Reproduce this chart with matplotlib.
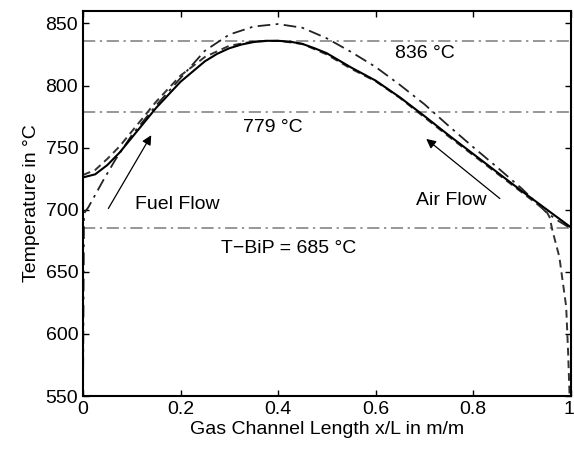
import numpy as np
import matplotlib.pyplot as plt
from matplotlib.transforms import ScaledTranslation

plt.rcParams['font.family'] = ['Liberation Sans', 'DejaVu Sans']

# gas channel position x/L
x_solid = [0.0, 0.025, 0.05, 0.075, 0.1, 0.15, 0.2, 0.25, 0.275, 0.3, 0.325,
           0.35, 0.375, 0.4, 0.425, 0.45, 0.475, 0.5, 0.55, 0.6, 0.65, 0.7,
           0.75, 0.8, 0.85, 0.9, 0.95, 1.0]
T_solid = [726, 728.5, 736, 746, 758, 782, 803, 819.5, 825.5, 830, 833,
           835, 836, 836, 835.3, 833.5, 830, 826, 814.5, 804, 790.5, 775.5,
           760, 745, 730, 715, 700.5, 686]

x_dashed = [0.0, 0.025, 0.05, 0.075, 0.1, 0.15, 0.2, 0.25, 0.3, 0.35, 0.4,
            0.45, 0.5, 0.55, 0.6, 0.65, 0.7, 0.75, 0.8, 0.85, 0.9, 0.95,
            0.957, 0.963, 0.977, 0.991, 0.995, 0.998]
T_dashed = [728, 732, 741, 751, 763, 787, 808, 823, 832, 835.5, 836,
            833.5, 825, 813.5, 803.5, 790, 774.5, 759, 744, 729, 714, 699,
            694, 683, 662, 622, 585, 550]

x_dashdot = [0.0, 0.002, 0.011, 0.042, 0.066, 0.1, 0.15, 0.2, 0.25, 0.3, 0.35,
             0.4, 0.45, 0.5, 0.55, 0.6, 0.65, 0.7, 0.75, 0.8, 0.85, 0.9,
             0.95, 0.975, 1.0]
T_dashdot = [550, 697, 702, 724, 740, 760, 784, 806, 828, 841, 847.5,
             849.5, 846.5, 838, 827, 815, 800.5, 785, 767.5, 750.5, 734, 717,
             698, 691, 685]

# reference temperatures
T_levels = [836, 779, 685]
level_labels = ['836 °C', '779 °C', 'T\u2212BiP = 685 °C']

xticks = [0, 0.2, 0.4, 0.6, 0.8, 1]
xtick_labels = ['0', '0.2', '0.4', '0.6', '0.8', '1']
yticks = [550, 600, 650, 700, 750, 800, 850]

fig = plt.figure(figsize=(5.74, 4.49), dpi=100)
ax = fig.add_axes([0.1446, 0.118, 0.8494, 0.8575])

for T in T_levels:
    ax.axhline(T, color='#7a7a7a', lw=1.1, ls=(0, (8, 3, 1.5, 3)), zorder=1)

ax.plot(x_dashdot, T_dashdot, color='#222222', lw=1.3, ls=(0, (7, 3, 1.5, 3)))
ax.plot(x_dashed, T_dashed, color='#333333', lw=1.4, ls=(0, (4, 2.5)))
ax.plot(x_solid, T_solid, color='black', lw=1.5)

fs = 14
ax.text(0.639, 825.5, level_labels[0], fontsize=fs, ha='left', va='center')
ax.text(0.328, 766.5, level_labels[1], fontsize=fs, ha='left', va='center')
ax.text(0.284, 669, level_labels[2], fontsize=fs, ha='left', va='center')
ax.text(0.107, 704.5, 'Fuel Flow', fontsize=fs, ha='left', va='center')
ax.text(0.684, 707.5, 'Air Flow', fontsize=fs, ha='left', va='center')

arrow = dict(arrowstyle='-|>', color='black', lw=0.9, mutation_scale=14,
             shrinkA=0, shrinkB=0)
ax.annotate('', xy=(0.14, 760), xytext=(0.052, 701), arrowprops=arrow)
ax.annotate('', xy=(0.704, 757), xytext=(0.855, 709), arrowprops=arrow)

ax.set_xlim(0, 1)
ax.set_ylim(550, 860)
ax.set_xticks(xticks)
ax.set_xticklabels(xtick_labels)
ax.set_yticks(yticks)
ax.tick_params(direction='in', top=True, right=True, labelsize=fs,
               length=4, width=1)
for s in ax.spines.values():
    s.set_linewidth(1.5)

# keep the last x label inside the figure
last = ax.get_xticklabels()[-1]
last.set_transform(last.get_transform() + ScaledTranslation(-2 / 100, 0, fig.dpi_scale_trans))

ax.set_xlabel('Gas Channel Length x/L in m/m', fontsize=fs, labelpad=2)
ax.set_ylabel('Temperature in °C', fontsize=fs, labelpad=4)

fig.savefig('out.png', dpi=100)
